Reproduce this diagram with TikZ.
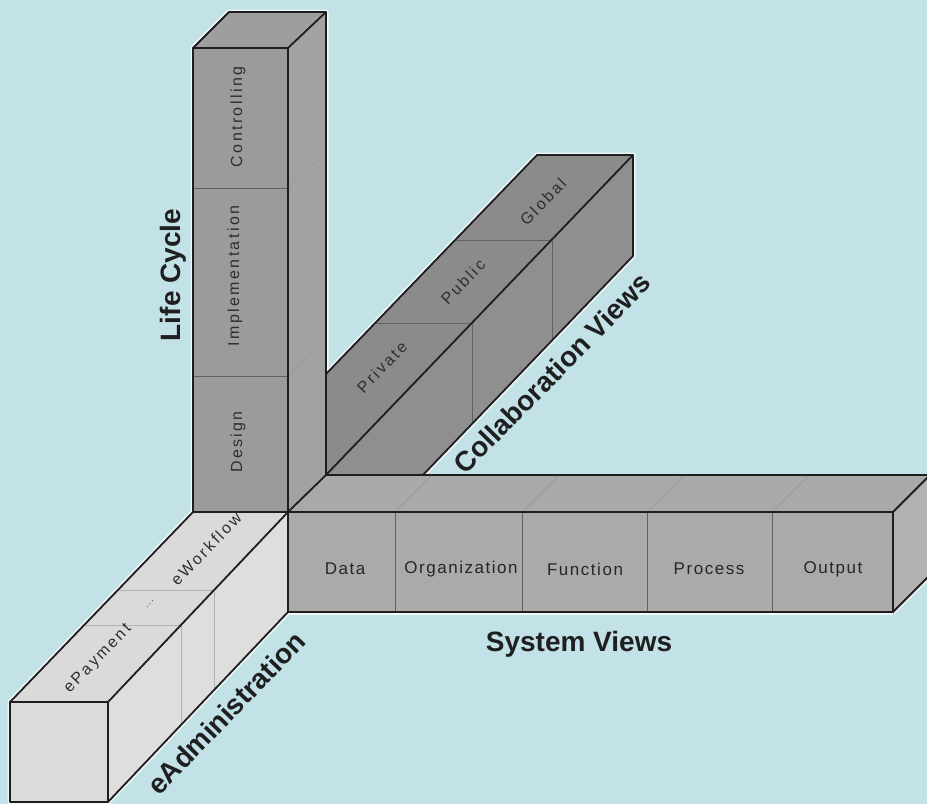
\documentclass[tikz,border=0pt]{standalone}
\usepackage{fontspec}
\setmainfont{Liberation Sans}
\newfontfamily\lblfont[LetterSpace=15]{Liberation Sans}
\newfontfamily\cellfont[LetterSpace=9]{Liberation Sans}
\definecolor{bgblue}{HTML}{C2E2E8}
\definecolor{lcfront}{HTML}{9B9B9B}
\definecolor{lcside}{HTML}{A2A2A2}
\definecolor{lctop}{HTML}{9E9E9E}
\definecolor{colltop}{HTML}{8B8B8B}
\definecolor{collside}{HTML}{8F8F8F}
\definecolor{svfront}{HTML}{AAAAA8}
\definecolor{svtop}{HTML}{A9A9A7}
\definecolor{svside}{HTML}{B2B2B0}
\definecolor{eafront}{HTML}{DCDCDA}
\definecolor{eatop}{HTML}{DADAD8}
\definecolor{easide}{HTML}{DEDEDC}
\definecolor{edgecol}{HTML}{1E1E1E}
\begin{document}
\begin{tikzpicture}[x=1pt,y=-1pt,
  edge/.style={draw=edgecol, line width=1.8pt, line join=round, line cap=round},
  divline/.style={draw=black!62, line width=0.7pt},
  faintline/.style={draw=black!40, line width=0.7pt},
  eadiv/.style={draw=black!30, line width=0.9pt},
  halo/.style={draw=white, line width=5pt, line join=round, opacity=0.75},
  celltext/.style={font=\lblfont\fontsize{16}{18}\selectfont, text=black!82, inner sep=0pt},
  svcell/.style={font=\cellfont\fontsize{17}{19}\selectfont, text=black!85, inner sep=0pt},
  biglab/.style={font=\bfseries\fontsize{28}{30}\selectfont, text=black!88, inner sep=0pt}]
\useasboundingbox (0,0) rectangle (927,804);
\clip (0,0) rectangle (927,804);
\fill[bgblue] (0,0) rectangle (927,804);

% ---------- halos ----------
\draw[halo] (326,374) -- (537,155) -- (633,155) -- (633,256) -- (423,475);
\draw[halo] (193,512) -- (193,48) -- (229,12) -- (326,12) -- (326,475);
\draw[halo] (893,612) -- (288,612);
\draw[halo] (930,575) -- (893,612);
\draw[halo] (193,512) -- (10,702) -- (10,802) -- (108,802) -- (288,612);

% ---------- Collaboration Views bar ----------
\fill[colltop] (326,374) -- (537,155) -- (633,155) -- (326,475) -- cycle;
\fill[collside] (326,475) -- (633,155) -- (633,256) -- (423,475) -- cycle;
\draw[divline] (375,323) -- (472,323) -- (472,424);
\draw[divline] (455,240) -- (552,240) -- (552,340);
\draw[edge] (326,374) -- (537,155) -- (633,155) -- (633,256) -- (423,475);
\draw[edge] (326,475) -- (633,155);

% ---------- Life Cycle column ----------
\fill[lcfront] (193,48) rectangle (288,512);
\fill[lctop] (193,48) -- (229,12) -- (326,12) -- (288,48) -- cycle;
\fill[lcside] (288,48) -- (326,12) -- (326,475) -- (288,512) -- cycle;
\draw[divline] (193,188) -- (288,188);
\draw[divline] (193,376) -- (288,376);
\draw[faintline] (288,188) -- (326,152);
\draw[faintline] (288,376) -- (326,340);
\draw[edge] (193,512) -- (193,48) -- (229,12) -- (326,12) -- (326,475);
\draw[edge] (193,48) -- (288,48) -- (326,12);
\draw[edge] (288,48) -- (288,512);

% ---------- System Views bar ----------
\fill[svtop] (288,512) -- (326,475) -- (930,475) -- (893,512) -- cycle;
\fill[svfront] (288,512) rectangle (893,612);
\fill[svside] (893,512) -- (930,475) -- (930,575) -- (893,612) -- cycle;
\foreach \xx in {395,522,647,772} {
  \draw[divline] (\xx,512) -- (\xx,612);
  \draw[faintline] (\xx,512) -- ({\xx+37},475);
}
\draw[edge] (288,512) rectangle (893,612);
\draw[edge] (893,512) -- (930,475);
\draw[edge] (893,612) -- (930,575);
\draw[edge] (326,475) -- (930,475);
\draw[edge] (108,702) -- (288,512) -- (326,475);

% ---------- eAdministration bar ----------
\fill[eatop] (10,702) -- (193,512) -- (288,512) -- (108,702) -- cycle;
\fill[easide] (108,702) -- (288,512) -- (288,612) -- (108,802) -- cycle;
\fill[eafront] (10,702) rectangle (108,802);
\draw[eadiv] (118,590) -- (214,590) -- (214,690);
\draw[eadiv] (84,625) -- (181,625) -- (181,725);
\draw[edge] (10,702) rectangle (108,802);
\draw[edge] (10,702) -- (193,512) -- (288,512);
\draw[edge] (108,702) -- (288,512);
\draw[edge] (108,802) -- (288,612) -- (288,512);

% ---------- cell labels ----------
\node[celltext, rotate=90] (ctrl) at (238,117) {Controlling};
\node[celltext, rotate=90] (impl) at (235,276) {Implementation};
\node[celltext, rotate=90] (desg) at (238,442) {Design};

\node[celltext, rotate=46] (priv) at (382,367) {Private};
\node[celltext, rotate=46] (publ) at (463,282) {Public};
\node[celltext, rotate=46] (glob) at (543,202) {Global};

\node[svcell] (data) at (345,569) {Data};
\node[svcell] (orga) at (461,569) {Organization};
\node[svcell] (func) at (585,569) {Function};
\node[svcell] (proc) at (709,569) {Process};
\node[svcell] (outp) at (833,569) {Output};

\node[celltext, rotate=46] (ewf) at (206,549) {eWorkflow};
\node[celltext, rotate=46] (epay) at (98,659) {ePayment};
\node[celltext, rotate=46, font=\lblfont\fontsize{9}{10}\selectfont] (dots) at (150,604) {...};

% ---------- axis labels ----------
\node[biglab, rotate=90] (lc) at (173,275) {Life Cycle};
\node[biglab, rotate=45.5] (cv) at (552,373) {Collaboration Views};
\node[biglab, anchor=base] (sv) at (579,651) {System Views};
\node[biglab, rotate=46] (ea) at (226,713) {eAdministration};
\end{tikzpicture}
\end{document}
